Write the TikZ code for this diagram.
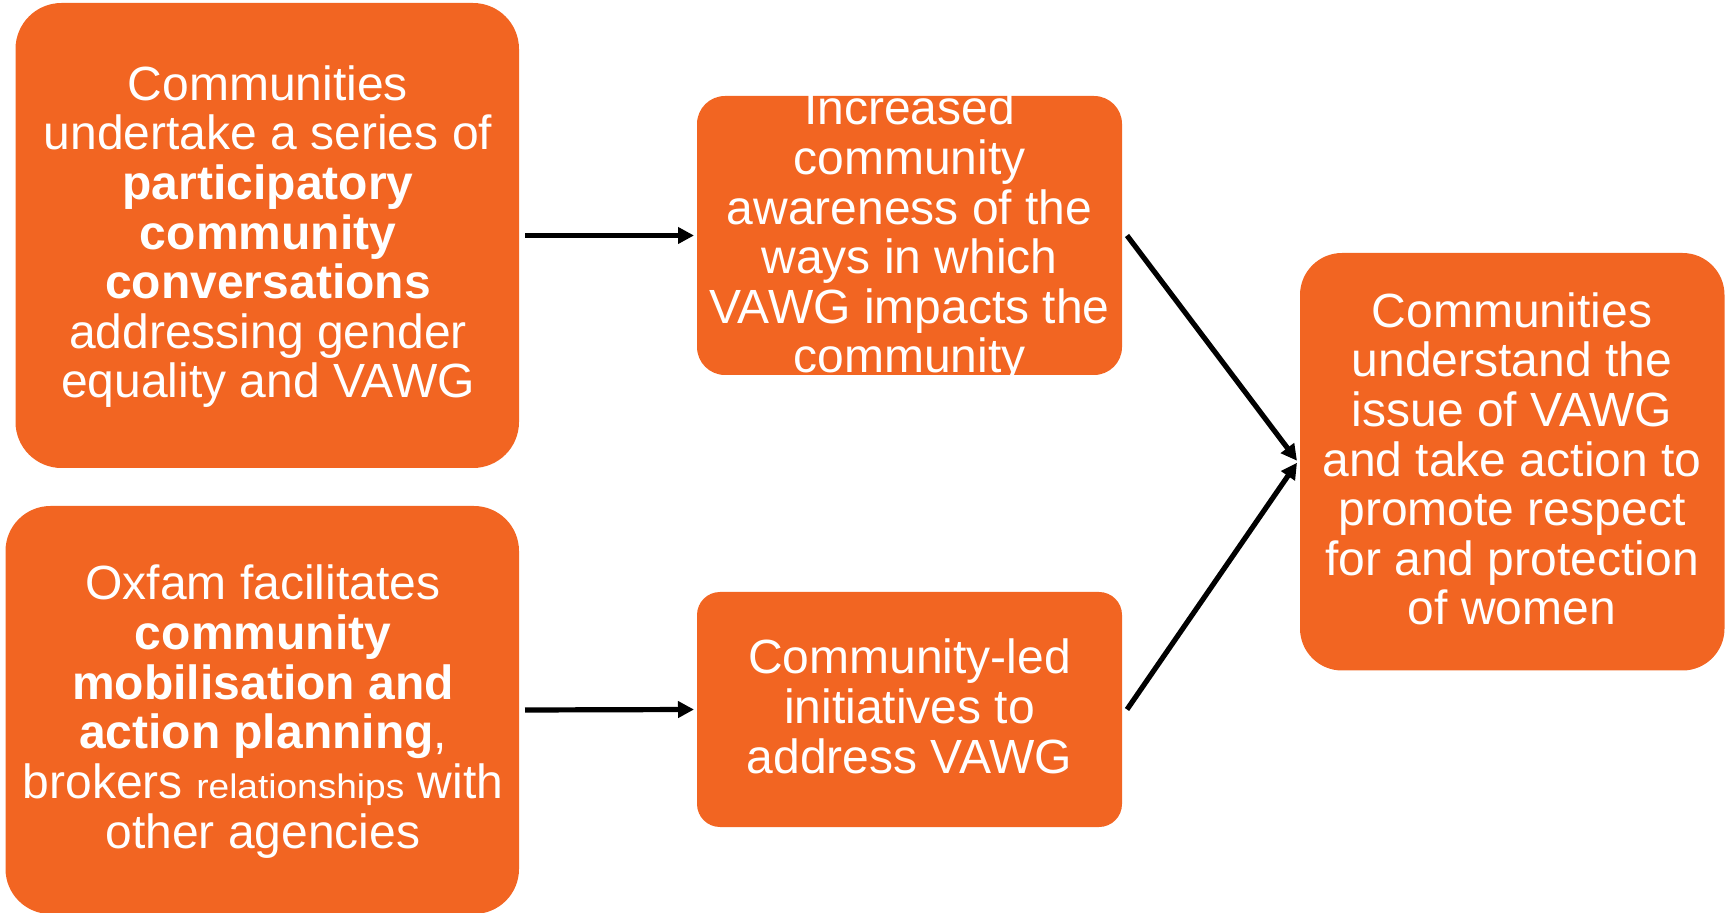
\documentclass[tikz,border=0pt]{standalone}
\usepackage{fontspec}
\usepackage{graphicx}
\setmainfont{Liberation Sans}
\usetikzlibrary{arrows.meta}
\definecolor{oxorange}{RGB}{242,101,34}
\begin{document}
\begin{tikzpicture}[x=0.5pt,y=-0.5pt,
  box/.style={fill=oxorange, draw=none, inner sep=0pt, outer sep=0pt},
  txt/.style={text=white, align=center, anchor=base, inner sep=0pt,
              font=\fontsize{24}{24.8}\selectfont},
  arr/.style={draw=black, line width=2.6pt, -{Triangle[length=8pt,width=8pt]}}]
\useasboundingbox (0,0) rectangle (1729,913);
% boxes
\node[box, rounded corners=23pt, minimum width=251.75pt, minimum height=232.5pt] (A) at (267.25,235.5) {};
\node[box, rounded corners=22.5pt, minimum width=256.75pt, minimum height=204pt] (B) at (262.25,710) {};
\node[box, rounded corners=14pt, minimum width=212.5pt, minimum height=139.5pt] (C) at (909.5,235.5) {};
\node[box, rounded corners=11.5pt, minimum width=212.5pt, minimum height=117.5pt] (D) at (909.5,709.5) {};
\node[box, rounded corners=21pt, minimum width=212.25pt, minimum height=208.75pt] (E) at (1512.25,461.75) {};
% texts (base anchor = baseline of the last line)
\node[txt] (At) at (268,398) {Communities\\undertake a series of\\\textbf{participatory}\\\textbf{community}\\\textbf{conversations}\\addressing gender\\equality and VAWG};
\node[txt] (Bt) at (263,848) {Oxfam facilitates\\\textbf{community}\\\textbf{mobilisation and}\\\textbf{action planning},\\brokers {\fontsize{17}{24.8}\selectfont\scalebox{1.09}[1]{relationships}} with\\other agencies};
\node[txt] (Ct) at (909.5,373) {Increased\\community\\awareness of the\\ways in which\\VAWG impacts the\\community};
\node[txt] (Dt) at (909.5,773) {Community-led\\initiatives to\\address VAWG};
\node[txt] (Et) at (1512,625) {Communities\\understand the\\issue of VAWG\\and take action to\\promote respect\\for and protection\\of women};
% connectors
\draw[arr] ([xshift=3pt]A.east) -- ([xshift=-1.5pt]C.west);
\draw[arr] ([xshift=3pt]B.east) -- ([xshift=-1.5pt]D.west);
\draw[arr] ([xshift=2.5pt]C.east) -- ([xshift=-1.5pt,yshift=0.5pt]E.west);
\draw[arr] ([xshift=2.5pt]D.east) -- ([xshift=-1.5pt,yshift=-0.5pt]E.west);
\end{tikzpicture}
\end{document}
